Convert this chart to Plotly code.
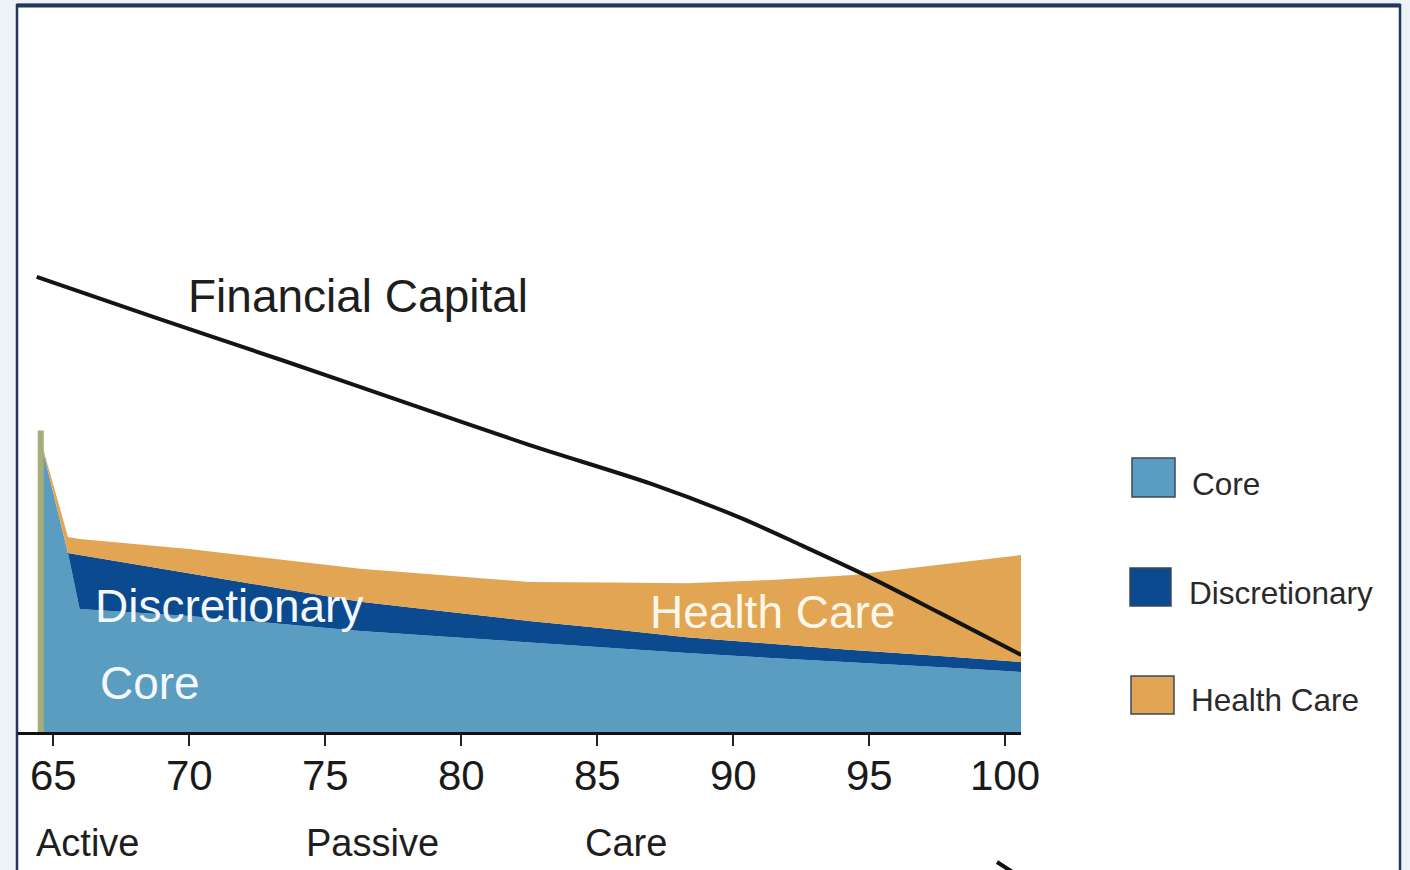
import plotly.graph_objects as go

# ---- data -------------------------------------------------------------
# spending layers by age (stacked)
ages = [64.45, 65.55, 65.98, 70.0, 76.3, 79.6, 82.5, 85.5, 88.3, 91.4, 94.4, 97.5, 100.6]
core = [100.5, 59.7, 41.0, 38.7, 33.7, 31.7, 29.7, 28.0, 26.3, 24.7, 23.3, 21.7, 20.0]
discretionary = [0.0, 0.0, 18.0, 14.3, 9.7, 8.3, 7.3, 6.3, 5.3, 4.7, 4.0, 3.7, 3.3]
health_care = [0.0, 5.3, 5.3, 8.0, 11.0, 12.0, 13.0, 15.5, 18.0, 21.3, 25.0, 30.3, 35.7]

# financial capital drawdown
cap_ages = [64.4, 68.9, 73.4, 77.8, 82.5, 87.0, 90.3, 92.5, 95.0, 97.6, 100.6]
capital = [151.7, 137.7, 124.0, 110.3, 95.7, 82.7, 71.3, 62.3, 51.7, 39.7, 25.7]

tick_ages = [65, 70, 75, 80, 85, 90, 95, 100]
tick_text = ["65", "70", "75", "80", "85", "90", "95", "100"]

phases = ["Active", "Passive", "Care"]
series_names = ["Core", "Discretionary", "Health Care"]
series_colors = ["#5a9dc1", "#0b4a8f", "#e2a553"]

# ---- geometry helpers (figure pixels -> paper fractions) ---------------
W, H = 1410, 870
L, R, T, B = 18, 389, 12, 138
PW, PH = W - L - R, H - T - B


def xp(px):
    return (px - L) / PW


def yp(py):
    return (H - B - py) / PH


FONT = "Liberation Sans, Arial, Helvetica, sans-serif"

fig = go.Figure()

for name, vals, col in zip(series_names, [core, discretionary, health_care], series_colors):
    fig.add_trace(go.Scatter(
        x=ages, y=vals, name=name, stackgroup="spend", mode="lines",
        line=dict(width=0, color=col), fillcolor=col, showlegend=False,
        hoverinfo="skip",
    ))

# thin edge at the start of the spending block
fig.add_trace(go.Scatter(
    x=[ages[0] + 0.1, ages[0] + 0.1], y=[0, core[0]], mode="lines",
    line=dict(color="#a5ae79", width=6), showlegend=False, hoverinfo="skip",
))

fig.add_trace(go.Scatter(
    x=cap_ages, y=capital, name="Financial Capital", mode="lines",
    line=dict(color="#141414", width=4, shape="spline", smoothing=0.8),
    showlegend=False, hoverinfo="skip",
))

shapes = []
# white slide panel with navy frame
shapes.append(dict(type="rect", xref="paper", yref="paper",
                   x0=xp(17), x1=xp(1400), y0=yp(H + 10), y1=yp(5),
                   fillcolor="white", line=dict(color="#22365a", width=2.5),
                   layer="below"))
shapes.append(dict(type="line", xref="paper", yref="paper",
                   x0=xp(17), x1=xp(1400), y0=yp(5.5), y1=yp(5.5),
                   line=dict(color="#22365a", width=4), layer="below"))
# arrow tip peeking in at the bottom edge
shapes.append(dict(type="line", xref="paper", yref="paper",
                   x0=xp(997), x1=xp(1014), y0=yp(862), y1=yp(873),
                   line=dict(color="#111111", width=4)))

# legend swatches
legend_boxes = [(1132, 1175, 458, 497), (1130, 1171, 568, 606), (1131, 1174, 676, 714)]
legend_text_x = [1190, 1187, 1189]
legend_text_y = [484, 593, 700]
for (x0, x1, y0, y1), col in zip(legend_boxes, series_colors):
    shapes.append(dict(type="rect", xref="paper", yref="paper",
                       x0=xp(x0), x1=xp(x1), y0=yp(y1), y1=yp(y0),
                       fillcolor=col, line=dict(color="#3c4a58", width=1.5)))

annotations = []
for name, tx, ty in zip(series_names, legend_text_x, legend_text_y):
    annotations.append(dict(text=name, xref="paper", yref="paper",
                            x=xp(tx), y=yp(ty), xanchor="left", yanchor="middle",
                            showarrow=False,
                            font=dict(family=FONT, size=31.5, color="#2a2a2a")))

# in-chart labels
annotations.append(dict(text="Financial Capital", xref="paper", yref="paper",
                        x=xp(358), y=yp(296), xanchor="center", yanchor="middle",
                        showarrow=False,
                        font=dict(family=FONT, size=46, color="#1e1e1e")))
annotations.append(dict(text="Discretionary", xref="paper", yref="paper",
                        x=xp(229), y=yp(606), xanchor="center", yanchor="middle",
                        showarrow=False,
                        font=dict(family=FONT, size=46, color="#f4f8fc")))
annotations.append(dict(text="Core", xref="paper", yref="paper",
                        x=xp(150), y=yp(683), xanchor="center", yanchor="middle",
                        showarrow=False,
                        font=dict(family=FONT, size=46, color="#f4f8fc")))
annotations.append(dict(text="Health Care", xref="paper", yref="paper",
                        x=xp(772), y=yp(612), xanchor="center", yanchor="middle",
                        showarrow=False,
                        font=dict(family=FONT, size=46, color="#fff8ea")))

# age labels under the tick marks
for age, txt in zip(tick_ages, tick_text):
    annotations.append(dict(text=txt, xref="x", yref="paper",
                            x=age, y=yp(775), xanchor="center", yanchor="middle",
                            showarrow=False,
                            font=dict(family=FONT, size=42, color="#1a1a1a")))

# life phases under the age axis
phase_x = [87, 372, 626]
for name, px in zip(phases, phase_x):
    annotations.append(dict(text=name, xref="paper", yref="paper",
                            x=xp(px), y=yp(843), xanchor="center", yanchor="middle",
                            showarrow=False,
                            font=dict(family=FONT, size=38, color="#1e1e1e")))

fig.update_layout(
    width=W, height=H,
    margin=dict(l=L, r=R, t=T, b=B, pad=0),
    paper_bgcolor="#edf2f7",
    plot_bgcolor="rgba(0,0,0,0)",
    shapes=shapes,
    annotations=annotations,
    showlegend=False,
    xaxis=dict(
        range=[65 + (L - 53) / 27.2, 65 + (L + PW - 53) / 27.2],
        tickmode="array", tickvals=tick_ages, ticktext=tick_text,
        showticklabels=False,
        ticks="outside", ticklen=11, tickwidth=1.5, tickcolor="#222222",
        showline=True, linecolor="#111111", linewidth=3,
        showgrid=False, zeroline=False,
        fixedrange=True,
    ),
    yaxis=dict(
        range=[0, 240], visible=False, showgrid=False, zeroline=False,
        fixedrange=True,
    ),
)

fig.write_html("out.html")
